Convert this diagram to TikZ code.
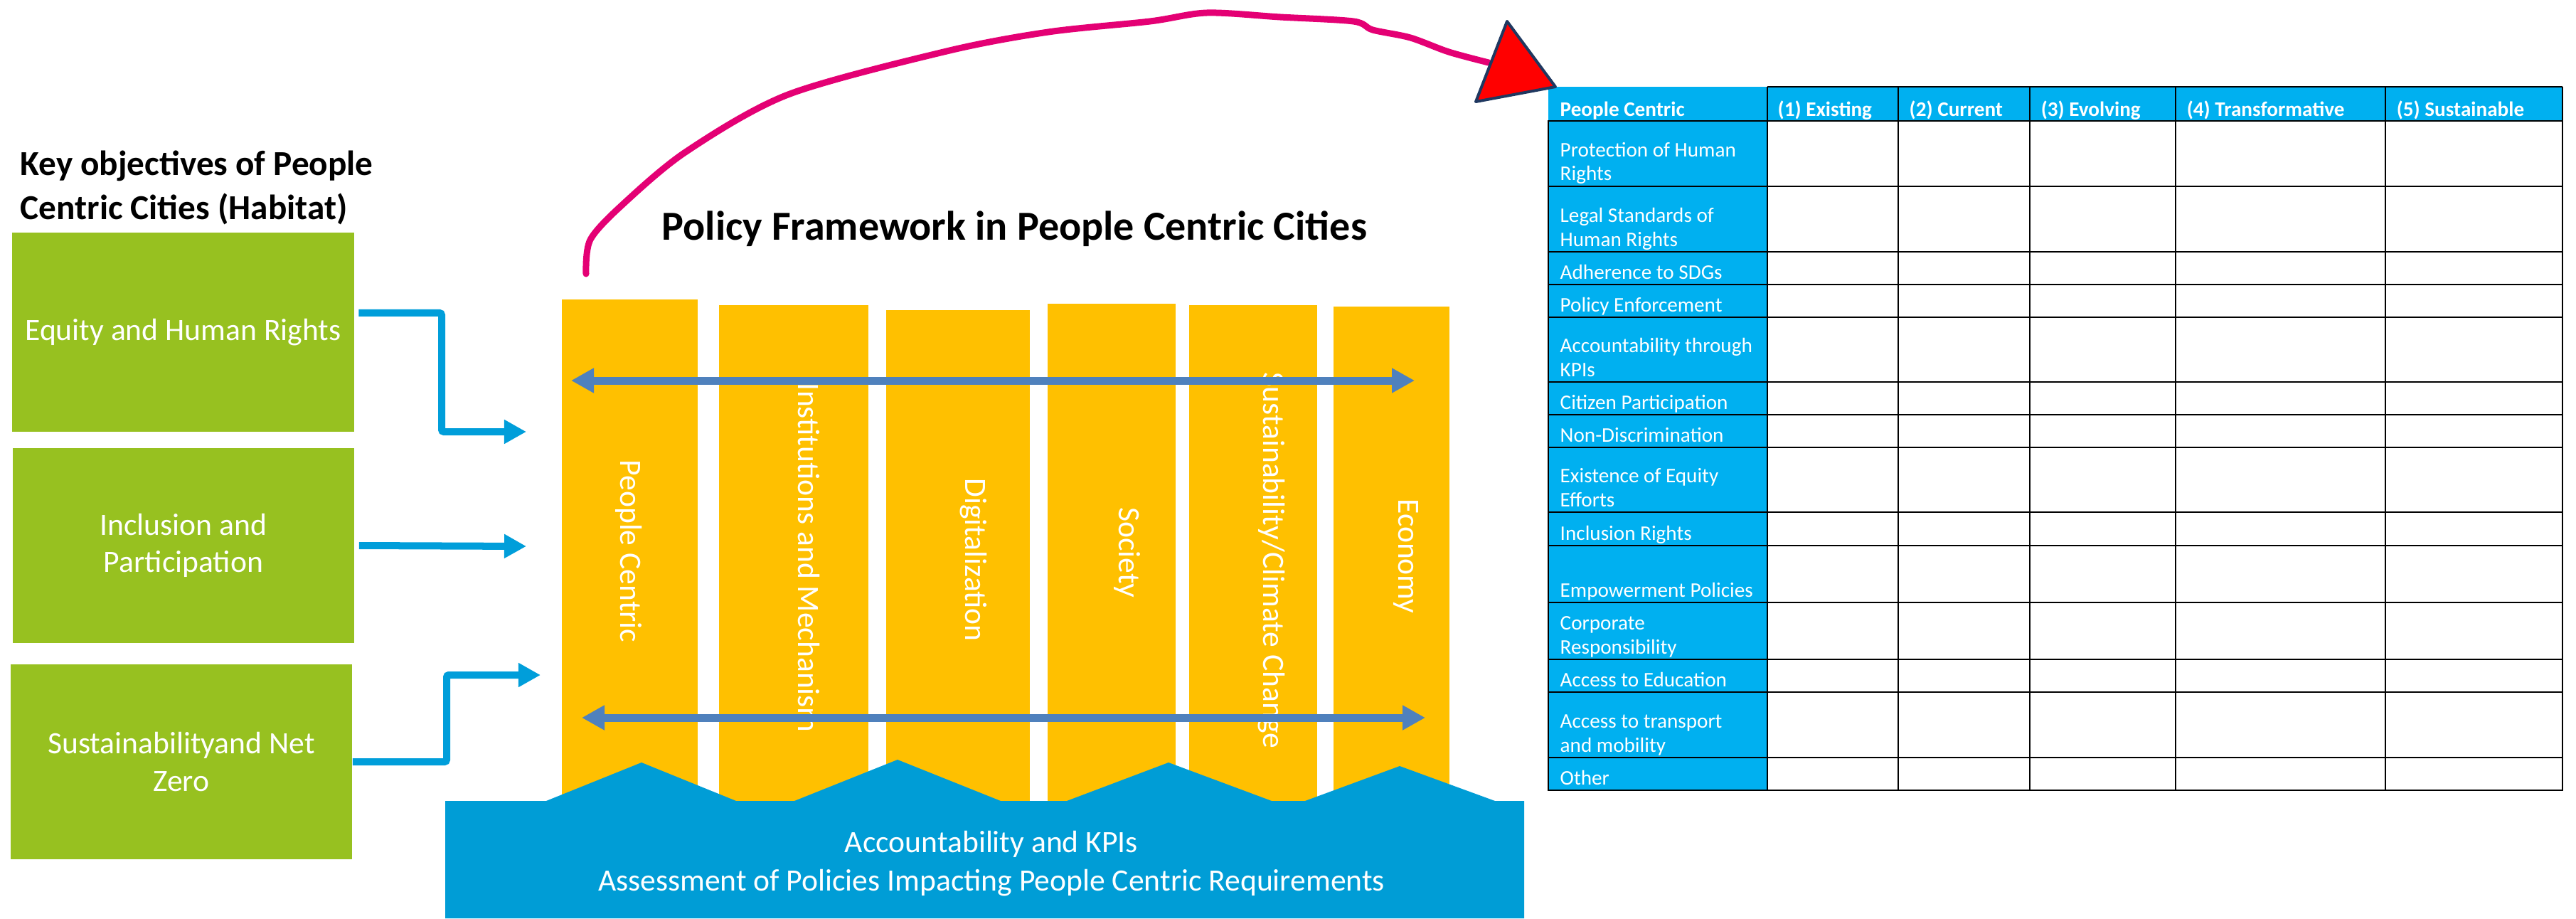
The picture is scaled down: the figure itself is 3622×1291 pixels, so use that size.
\documentclass[tikz,border=0pt]{standalone}
\usepackage{fontspec}
\setmainfont{Carlito}
\usetikzlibrary{arrows.meta}
\definecolor{objgreen}{RGB}{151,193,32}
\definecolor{pillaryellow}{RGB}{255,192,0}
\definecolor{basefill}{RGB}{0,157,214}
\definecolor{feedblue}{RGB}{0,158,218}
\definecolor{spanblue}{RGB}{79,129,189}
\definecolor{tablecyan}{RGB}{0,176,240}
\definecolor{loopmagenta}{RGB}{228,0,116}
\definecolor{tipnavy}{RGB}{31,56,96}
\tikzset{
    objbox/.style={fill=objgreen, text=white, align=center, inner sep=0pt,
        minimum width=4.8cm, minimum height=2.74cm,
        font=\fontsize{12.4}{14.8}\selectfont},
    pillar/.style={fill=pillaryellow},
    pillartext/.style={rotate=-90, text=white, inner sep=0pt,
        font=\fontsize{12.4}{14.8}\selectfont},
    feed/.style={draw=feedblue, line width=0.1cm, rounded corners=0.03cm,
        -{Triangle[length=0.31cm, width=0.32cm]}},
    spanarrow/.style={draw=spanblue, line width=0.11cm,
        {Triangle[length=0.32cm, width=0.33cm]}-{Triangle[length=0.32cm, width=0.33cm]}},
    loopline/.style={draw=loopmagenta, line width=0.09cm, line cap=round, line join=round},
    tipshape/.style={fill=red, draw=tipnavy, line width=0.04cm, line join=round},
    gridline/.style={draw=black, line width=0.022cm},
    headcell/.style={anchor=base west, inner sep=0pt, text=white,
        font=\bfseries\fontsize{8.3}{9.6}\selectfont},
    rowcell/.style={anchor=base west, inner sep=0pt, text=white, align=left,
        font=\fontsize{8.3}{9.6}\selectfont},
    heading/.style={anchor=base west, inner sep=0pt, align=left,
        font=\bfseries\fontsize{14}{17.4}\selectfont},
}

\begin{document}
\begin{tikzpicture}[x=0.01cm, y=-0.01cm]
    \useasboundingbox (0,0) rectangle (3622,1291);

    % objectives on the left
    \node[heading] (objtitle) at (28,308) {Key objectives of People\\Centric Cities (Habitat)};
    \node[objbox, minimum height=2.8cm] (equity) at (257.5,467) {Equity and Human Rights};
    \node[objbox] (inclusion) at (258,767) {Inclusion and\\Participation};
    \node[objbox] (sustain) at (255,1071) {Sustainabilityand Net\\Zero};

    \coordinate (equityend) at (740,607);
    \coordinate (inclusionend) at (740,768);
    \coordinate (sustainend) at (760,949);
    \draw[feed] ([xshift=0.06cm, yshift=0.27cm]equity.east) -| (621,607) -- (equityend);
    \draw[feed] ([xshift=0.06cm]inclusion.east) -- (inclusionend);
    \draw[feed] (sustain.east) -| (628,949) -- (sustainend);

    % framework
    \node[anchor=base west, inner sep=0pt, font=\bfseries\fontsize{16.5}{19}\selectfont] (frametitle) at (930,337) {Policy Framework in People Centric Cities};

    \fill[pillar] (790,421) rectangle (981,1126);
    \fill[pillar] (1011,429) rectangle (1221,1126);
    \fill[pillar] (1246,436) rectangle (1448,1126);
    \fill[pillar] (1473,427) rectangle (1653,1126);
    \fill[pillar] (1672,429) rectangle (1852,1126);
    \fill[pillar] (1875,431) rectangle (2038,1126);
    \node[pillartext] (txtpeople) at (884,775) {People Centric};
    \node[pillartext] (txtinstitutions) at (1137,784) {Institutions and Mechanism};
    \node[pillartext] (txtdigital) at (1369,787) {Digitalization};
    \node[pillartext] (txtsociety) at (1585,777) {Society};
    \node[pillartext] (txtclimate) at (1788,788) {Sustainability/Climate Change};
    \node[pillartext] (txteconomy) at (1977,782) {Economy};

    \coordinate (spantopwest) at (803,535);
    \coordinate (spantopeast) at (1989,535);
    \coordinate (spanlowwest) at (818,1009);
    \coordinate (spanloweast) at (2004,1009);
    \draw[spanarrow] (spantopwest) -- (spantopeast);
    \draw[spanarrow] (spanlowwest) -- (spanloweast);

    \fill[basefill] (626,1126) -- (768,1126) -- (902,1072) -- (1035,1126) -- (1117,1126) -- (1262,1068) -- (1407,1126) -- (1500,1126) -- (1643,1072) -- (1788,1126) -- (1835,1126) -- (1968,1077) -- (2102,1126) -- (2143,1126) -- (2143,1291) -- (626,1291) -- cycle;
    \node[anchor=base, align=center, text=white, inner sep=0pt, font=\fontsize{12.4}{15.1}\selectfont] (basecaption) at (1394,1252) {Accountability and KPIs\\Assessment of Policies Impacting People Centric Requirements};

    % table
    \fill[tablecyan] (2177,122) rectangle (3603,170);
    \fill[tablecyan] (2177,170) rectangle (2485,1111);
    \draw[gridline] (2485,122) -- (3603,122);
    \draw[gridline] (2177,170) rectangle (3603,262);
    \draw[gridline] (2177,262) rectangle (3603,354);
    \draw[gridline] (2177,354) rectangle (3603,400);
    \draw[gridline] (2177,400) rectangle (3603,446);
    \draw[gridline] (2177,446) rectangle (3603,537);
    \draw[gridline] (2177,537) rectangle (3603,583);
    \draw[gridline] (2177,583) rectangle (3603,629);
    \draw[gridline] (2177,629) rectangle (3603,720);
    \draw[gridline] (2177,720) rectangle (3603,767);
    \draw[gridline] (2177,767) rectangle (3603,847);
    \draw[gridline] (2177,847) rectangle (3603,927);
    \draw[gridline] (2177,927) rectangle (3603,973);
    \draw[gridline] (2177,973) rectangle (3603,1065);
    \draw[gridline] (2177,1065) rectangle (3603,1111);
    \draw[gridline] (2485,122) -- (2485,1111);
    \draw[gridline] (2669,122) -- (2669,1111);
    \draw[gridline] (2854,122) -- (2854,1111);
    \draw[gridline] (3059,122) -- (3059,1111);
    \draw[gridline] (3354,122) -- (3354,1111);
    \draw[gridline] (3603,122) -- (3603,1111);

    \node[headcell] (headpeople) at (2193,163) {People Centric};
    \node[headcell] (headexisting) at (2499,163) {(1) Existing};
    \node[headcell] (headcurrent) at (2684,163) {(2) Current};
    \node[headcell] (headevolving) at (2869,163) {(3) Evolving};
    \node[headcell] (headtransform) at (3074,163) {(4) Transformative};
    \node[headcell] (headsustain) at (3369,163) {(5) Sustainable};

    \node[rowcell] (rowprotect) at (2193,254) {Protection of Human\\Rights};
    \node[rowcell] (rowlegal) at (2193,346) {Legal Standards of\\Human Rights};
    \node[rowcell] (rowsdg) at (2193,392) {Adherence to SDGs};
    \node[rowcell] (rowenforce) at (2193,438) {Policy Enforcement};
    \node[rowcell] (rowkpi) at (2193,529) {Accountability through\\KPIs};
    \node[rowcell] (rowcitizen) at (2193,575) {Citizen Participation};
    \node[rowcell] (rownondisc) at (2193,621) {Non-Discrimination};
    \node[rowcell] (rowequity) at (2193,712) {Existence of Equity\\Efforts};
    \node[rowcell] (rowinclusion) at (2193,759) {Inclusion Rights};
    \node[rowcell] (rowempower) at (2193,839) {Empowerment Policies};
    \node[rowcell] (rowcorporate) at (2193,919) {Corporate\\Responsibility};
    \node[rowcell] (roweducation) at (2193,965) {Access to Education};
    \node[rowcell] (rowtransport) at (2193,1057) {Access to transport\\and mobility};
    \node[rowcell] (rowother) at (2193,1103) {Other};

    % loop back to the table
    \coordinate (loopstart) at (824,385);
    \coordinate (loopend) at (2093,88);
    \draw[loopline] plot[smooth, tension=0.5] coordinates {(loopstart) (830,337) (876,287) (965,213) (1108,133) (1331,72) (1474,45) (1617,30) (1697,18) (1800,24) (1903,30) (1930,42) (1983,53) (2037,73) (loopend)};
    \filldraw[tipshape] (2119,30) -- (2187,122) -- (2075,143) -- cycle;
\end{tikzpicture}
\end{document}
